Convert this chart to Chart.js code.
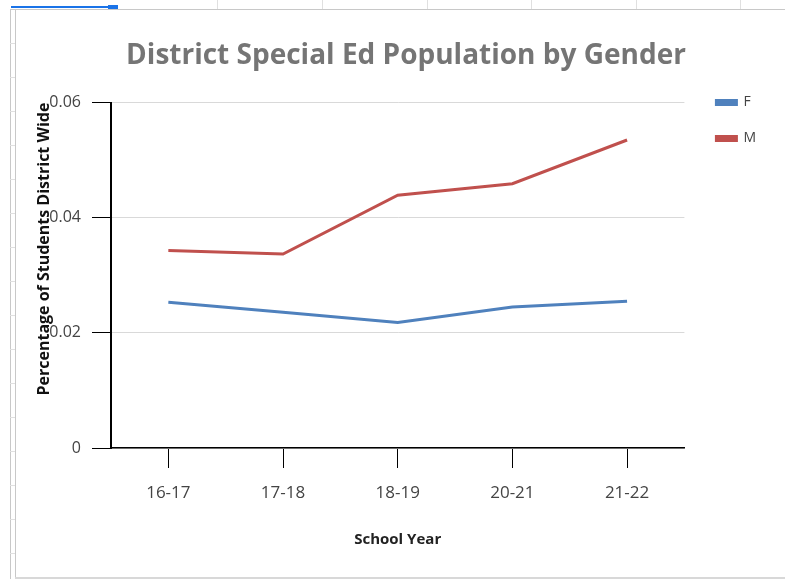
<!DOCTYPE html>
<html>
<head>
<meta charset="utf-8">
<script src="https://cdn.jsdelivr.net/npm/chart.js@4.4.1/dist/chart.umd.min.js"></script>
<style>
  body { margin: 0; background: #fff; width: 785px; height: 579px; position: relative; overflow: hidden; }
  .line { position: absolute; background: #c8c8c8; }
  #wrap { position: absolute; left: 16px; top: 11px; width: 769px; height: 566px; }
</style>
</head>
<body>
<!-- spreadsheet frame around the embedded chart -->
<div class="line" style="left:10px; top:9px; right:0; height:1px;"></div>
<div class="line" style="left:10px; top:9px; bottom:0; width:1px;"></div>
<div class="line" style="left:15px; top:9px; bottom:0; width:1px;"></div>
<div class="line" style="left:15px; top:577px; right:0; height:2px; background:#d8d8d8;"></div>
<div style="position:absolute; left:11px; top:6px; width:97px; height:2px; background:#1a73e8;"></div>
<div style="position:absolute; left:108px; top:5px; width:10px; height:4px; background:#1a73e8;"></div>
<div id="wrap"><canvas id="genderChart"></canvas></div>
<script>
// sheet grid ticks
[217, 322, 427, 531, 636, 740].forEach((x) => {
  const d = document.createElement("div");
  d.className = "line";
  d.style.cssText = `left:${x}px; top:0; height:9px; width:1px; background:#e0e0e0;`;
  document.body.appendChild(d);
});
for (let y = 43; y < 579; y += 34) {
  const d = document.createElement("div");
  d.className = "line";
  d.style.cssText = `left:10px; top:${y}px; height:1px; width:5px; background:#e0e0e0;`;
  document.body.appendChild(d);
}

// data
const years = ["16-17", "17-18", "18-19", "20-21", "21-22"];
const femaleShare = [0.0253, 0.0236, 0.0218, 0.0245, 0.0255];
const maleShare = [0.0343, 0.0337, 0.0439, 0.0459, 0.0535];
const yTicks = [0, 0.02, 0.04, 0.06];

// nudge title and legend sideways like the sheets chart
const nudge = {
  id: "nudge",
  afterLayout(chart) {
    chart.legend.left += 10;
    chart.legend.right += 10;
    chart.titleBlock.left += 20;
    chart.titleBlock.right += 20;
  },
};

new Chart(document.getElementById("genderChart"), {
  type: "line",
  data: {
    labels: years,
    datasets: [
      {
        label: "F",
        data: femaleShare,
        borderColor: "#4f81bd",
        backgroundColor: "#4f81bd",
        borderWidth: 3,
        pointRadius: 0,
      },
      {
        label: "M",
        data: maleShare,
        borderColor: "#c0504d",
        backgroundColor: "#c0504d",
        borderWidth: 3,
        pointRadius: 0,
      },
    ],
  },
  plugins: [nudge],
  options: {
    responsive: true,
    maintainAspectRatio: false,
    animation: false,
    layout: { padding: { right: 29 } },
    plugins: {
      title: {
        display: true,
        text: "District Special Ed Population by Gender",
        color: "#757575",
        font: { family: "Open Sans", weight: "bold", size: 28 },
        padding: { top: 28, bottom: 30 },
      },
      legend: {
        position: "right",
        align: "start",
        title: { display: true, text: "", font: { size: 12 }, padding: { top: 48, bottom: 0 } },
        labels: {
          boxWidth: 20,
          boxHeight: 4,
          padding: 22,
          color: "#444",
          font: { family: "Open Sans", size: 14 },
        },
      },
      tooltip: { enabled: false },
    },
    scales: {
      x: {
        offset: true,
        grid: { drawOnChartArea: false, offset: false, tickColor: "#000", tickLength: 20 },
        border: { color: "#000", width: 1.5 },
        ticks: { color: "#444", font: { family: "Open Sans", size: 17 }, padding: 15 },
        title: {
          display: true,
          text: "School Year",
          color: "#222",
          font: { family: "Open Sans", weight: "bold", size: 15 },
          padding: { top: 0, bottom: 28 },
        },
        afterFit: (s) => { s.height = 129; },
      },
      y: {
        min: 0,
        max: 0.06,
        afterBuildTicks: (s) => { s.ticks = yTicks.map((v) => ({ value: v })); },
        grid: { color: "#d9d9d9", tickColor: "#000", tickLength: 19 },
        border: { color: "#000", width: 2 },
        ticks: {
          color: "#444",
          font: { family: "Open Sans", size: 16 },
          padding: 11,
          callback: (v) => (v === 0 ? "0" : v.toFixed(2)),
        },
        title: {
          display: true,
          text: "Percentage of Students District Wide",
          align: "end",
          color: "#111",
          font: { family: "Open Sans", weight: "bold", size: 16 },
          padding: { top: 19, bottom: 0 },
        },
        afterFit: (s) => { s.width = 95; },
      },
    },
  },
});
</script>
</body>
</html>
